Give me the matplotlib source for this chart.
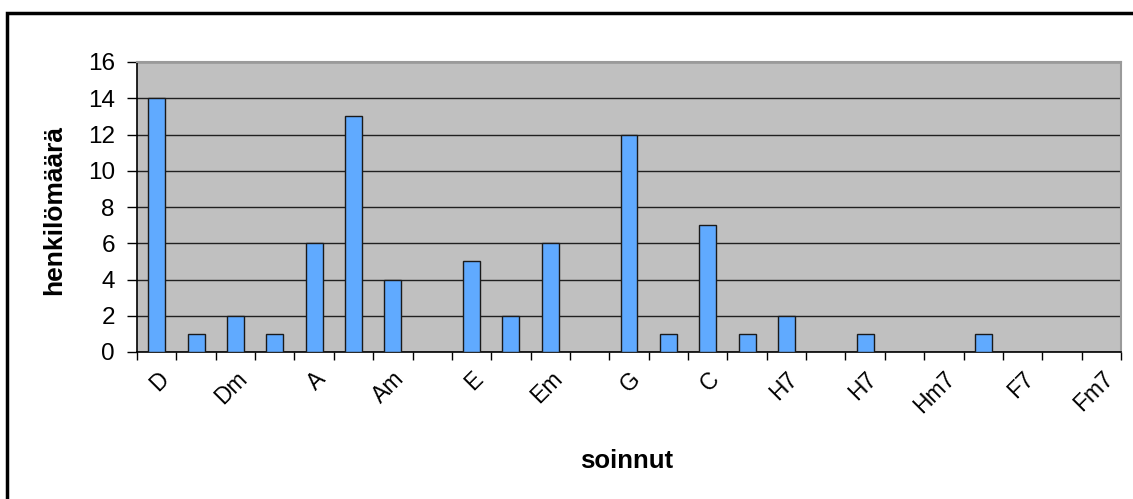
import matplotlib
matplotlib.use("Agg")
import matplotlib.pyplot as plt
from matplotlib.patches import Rectangle
import numpy as np

# Chord names (every second one is printed on the axis)
chords = ["D", "D7", "Dm", "Dm7", "A", "A7", "Am", "Am7", "E", "E7",
          "Em", "Em7", "G", "G7", "C", "C7", "H7", "H", "H7", "Hm",
          "Hm7", "F", "F7", "Fm", "Fm7"]
# Number of people per chord
counts = [14, 1, 2, 1, 6, 13, 4, 0, 5, 2,
          6, 0, 12, 1, 7, 1, 2, 0, 1, 0,
          0, 1, 0, 0, 0]
y_ticks = [0, 2, 4, 6, 8, 10, 12, 14, 16]

plt.rcParams["font.family"] = ["Liberation Sans", "DejaVu Sans"]

fig = plt.figure(figsize=(11.33, 4.99), dpi=100)
fig.patch.set_facecolor("white")

# outer chart frame (top and left edges visible)
fig.add_artist(Rectangle((7 / 1133, -0.05), 1.2, 1 - 13 / 499 + 0.05,
                         transform=fig.transFigure, fill=False,
                         edgecolor="black", linewidth=2.5))

ax = fig.add_axes([137 / 1133, 1 - 352 / 499, 984 / 1133, 290 / 499])
ax.set_facecolor("#c0c0c0")

x = np.arange(len(chords))
ax.bar(x, counts, width=0.43, color="#60aaff", edgecolor="#1a1a1a",
       linewidth=1.0, zorder=3)

ax.set_xlim(-0.5, len(chords) - 0.5)
ax.set_ylim(0, 16)
ax.set_yticks(y_ticks)
ax.set_yticklabels([str(v) for v in y_ticks], fontsize=17.5)
ax.yaxis.grid(True, color="#202020", linewidth=1.0, zorder=1)
ax.set_axisbelow(True)

# category boundaries carry the tick marks, labels sit at every second category
ax.set_xticks(np.arange(-0.5, len(chords), 1.0), minor=True)
ax.set_xticks(x[::2])
ax.set_xticklabels(chords[::2], rotation=45, ha="right", va="top",
                   rotation_mode="anchor", fontsize=16.5)
ax.tick_params(axis="x", which="major", length=0, pad=11)
ax.tick_params(axis="x", which="minor", length=6, width=1, color="black",
               direction="out")
ax.tick_params(axis="y", length=7, width=1, color="black", direction="out",
               pad=9)

for side in ("left", "bottom"):
    ax.spines[side].set_color("black")
    ax.spines[side].set_linewidth(1.2)
for side in ("top", "right"):
    ax.spines[side].set_color("#9a9a9a")
    ax.spines[side].set_linewidth(1.5)

ax.set_ylabel("henkilömäärä", fontsize=19, fontweight="bold")
ax.yaxis.set_label_coords((66 - 137) / 984, 0.49)
ax.set_xlabel("soinnut", fontsize=18.5, fontweight="bold")
ax.xaxis.set_label_coords((627 - 137) / 984, -(449 - 352) / 290)

fig.savefig("out.png", dpi=100)
